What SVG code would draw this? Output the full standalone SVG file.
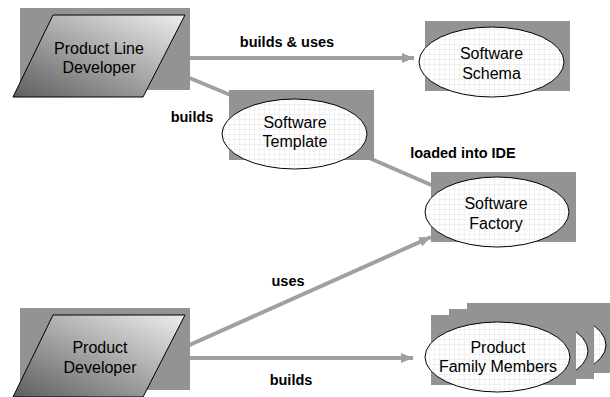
<svg xmlns="http://www.w3.org/2000/svg" width="610" height="397" viewBox="0 0 610 397">
<style>
.sh{fill:#939393}
.el{fill:url(#grid);stroke:#000;stroke-width:1}
.pg{fill:url(#pgGrad);stroke:#000;stroke-width:1}
.nt{font-family:"Liberation Sans",Arial,sans-serif;font-size:16px;fill:#000;text-anchor:middle}
.lb{font-family:"Liberation Sans",Arial,sans-serif;font-size:14.5px;font-weight:bold;fill:#000;text-anchor:middle}
.cn{stroke:#a0a0a0;stroke-width:4;fill:none}
</style>
<defs>
<pattern id="grid" patternUnits="userSpaceOnUse" width="5" height="5">
<rect width="5" height="5" fill="#fff"/>
<path d="M5 0V5M0 5H5" stroke="#dedede" stroke-width="0.8" fill="none"/>
</pattern>
<linearGradient id="pgGrad" x1="1" y1="0" x2="0" y2="1">
<stop offset="0" stop-color="#eeeeee"/>
<stop offset="1" stop-color="#5e5e5e"/>
</linearGradient>
<marker id="arr" markerUnits="userSpaceOnUse" markerWidth="14" markerHeight="12" refX="12" refY="5" orient="auto">
<path d="M0 0L12 5L0 10Z" fill="#a0a0a0"/>
</marker>
</defs>
<rect width="610" height="397" fill="#fff"/>
<g id="connectors">
<line class="cn" x1="185" y1="58" x2="414" y2="58" marker-end="url(#arr)"/>
<line class="cn" x1="180" y1="74" x2="240" y2="99"/>
<line class="cn" x1="360" y1="154" x2="445" y2="191"/>
<line class="cn" x1="185" y1="347" x2="431" y2="237" marker-end="url(#arr)"/>
<line class="cn" x1="185" y1="358" x2="413" y2="358" marker-end="url(#arr)"/>
<text class="lb" x="287" y="47">builds &amp; uses</text>
<text class="lb" x="192" y="122">builds</text>
<text class="lb" x="463" y="158">loaded into IDE</text>
<text class="lb" x="288" y="286">uses</text>
<text class="lb" x="291" y="385">builds</text>
</g>
<g id="product-line-developer">
<rect class="sh" x="20" y="8" width="170" height="82"/>
<polygon class="pg" points="53,15 185,15 143,97 13,97"/>
<text class="nt" x="99" y="54">Product Line</text>
<text class="nt" x="99" y="73">Developer</text>
</g>
<g id="software-schema">
<rect class="sh" x="425" y="21" width="145" height="70"/>
<ellipse class="el" cx="491.5" cy="62" rx="72.5" ry="35"/>
<text class="nt" x="491.5" y="59">Software</text>
<text class="nt" x="491.5" y="79">Schema</text>
</g>
<g id="software-template">
<rect class="sh" x="229" y="90" width="145" height="70"/>
<ellipse class="el" cx="294.5" cy="134" rx="72.5" ry="35"/>
<text class="nt" x="295" y="128">Software</text>
<text class="nt" x="295" y="147">Template</text>
</g>
<g id="software-factory">
<rect class="sh" x="431" y="172" width="145" height="70"/>
<ellipse class="el" cx="497" cy="212" rx="72" ry="35"/>
<text class="nt" x="496" y="209">Software</text>
<text class="nt" x="496" y="229">Factory</text>
</g>
<g id="product-developer">
<rect class="sh" x="20" y="308" width="170" height="82"/>
<polygon class="pg" points="53,315 185,315 143,397 13,397"/>
<text class="nt" x="100" y="353">Product</text>
<text class="nt" x="100" y="373">Developer</text>
</g>
<g id="product-family-members">
<rect class="sh" x="467" y="303" width="145" height="70"/>
<ellipse class="el" cx="533.5" cy="345" rx="72.5" ry="35"/>
<rect class="sh" x="449" y="309" width="145" height="70"/>
<ellipse class="el" cx="515.5" cy="351" rx="72.5" ry="35"/>
<rect class="sh" x="431" y="315" width="145" height="70"/>
<ellipse class="el" cx="497.5" cy="357" rx="72.5" ry="35"/>
<text class="nt" x="498" y="353">Product</text>
<text class="nt" x="498" y="372">Family Members</text>
</g>
</svg>
